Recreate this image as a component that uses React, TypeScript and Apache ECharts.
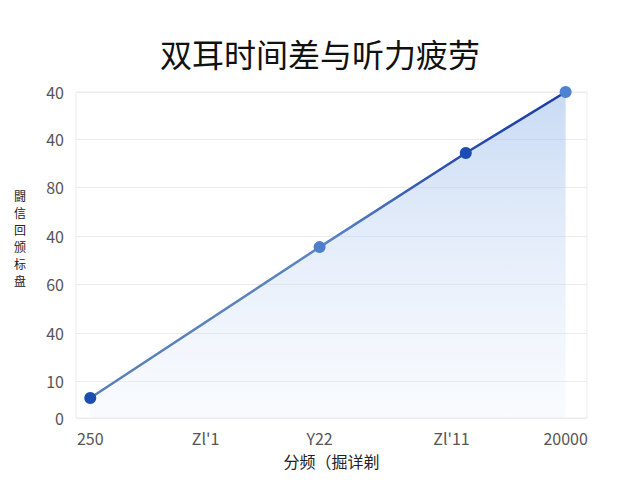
import * as echarts from 'echarts';
import React, { useEffect, useRef } from 'react';

// values
const xTickValues = [0, 0.97, 1.93, 3.04, 4];
const xTickLabels = ['250', "Zl'1", 'Y22', "Zl'11", '20000'];
const yTickValues = [0, 0.79, 1.83, 2.88, 3.91, 4.96, 5.99, 7];
const yTickLabels = ['0', '10', '40', '60', '40', '80', '40', '40'];
const pointX = [0, 1.93, 3.16, 4];
const pointY = [0.43, 3.67, 5.69, 7];
const pointColors = ['#1d4eae', '#4d7fcb', '#1c4db3', '#4f82d2'];

const labelFor = (values: number[], labels: string[], v: number) => {
  let best = 0;
  values.forEach((t, i) => {
    if (Math.abs(t - v) < Math.abs(values[best] - v)) best = i;
  });
  return labels[best];
};

const App: React.FC = () => {
  const chartRef = useRef<HTMLDivElement>(null);

  useEffect(() => {
    const myChart = echarts.init(chartRef.current!, null, { renderer: 'svg' });

    const option = {
      animation: false,
      textStyle: { fontFamily: '"Noto Sans CJK SC", "Noto Sans", sans-serif' },
      title: {
        text: '双耳时间差与听力疲劳',
        left: 'center',
        top: 32,
        textStyle: { fontSize: 32, fontWeight: 'normal', color: '#111' },
      },
      grid: {
        left: 76,
        right: 53,
        top: 92,
        bottom: 62,
        show: true,
        borderColor: '#ebebeb',
        borderWidth: 1,
      },
      xAxis: {
        type: 'value',
        min: -0.12,
        max: 4.18,
        name: '分频（掘详剃',
        nameLocation: 'middle',
        nameGap: 35,
        nameTextStyle: { fontSize: 16, color: '#222' },
        axisLine: { show: false },
        axisTick: { show: false, customValues: xTickValues },
        splitLine: { show: false },
        axisLabel: {
          customValues: xTickValues,
          fontSize: 16,
          color: '#555',
          margin: 12,
          formatter: (v: number) => labelFor(xTickValues, xTickLabels, v),
        },
      },
      yAxis: {
        type: 'value',
        min: 0,
        max: 7,
        // vertical stacked name, two empty lines lift it above the middle
        name: '闘\n信\n回\n颁\n标\n盘\n\n',
        nameLocation: 'middle',
        nameRotate: 0,
        nameGap: 50,
        nameTextStyle: { fontSize: 12, color: '#222', lineHeight: 17 },
        axisLine: { show: false },
        axisTick: { show: false, customValues: yTickValues },
        splitLine: { show: true, lineStyle: { color: '#ececec', width: 1 } },
        axisLabel: {
          customValues: yTickValues,
          fontSize: 16,
          color: '#555',
          margin: 12,
          formatter: (v: number) => labelFor(yTickValues, yTickLabels, v),
        },
      },
      series: [
        {
          type: 'line',
          data: pointX.map((x, i) => ({
            value: [x, pointY[i]],
            itemStyle: { color: pointColors[i] },
          })),
          symbol: 'circle',
          symbolSize: 12,
          lineStyle: {
            width: 2.5,
            color: new echarts.graphic.LinearGradient(0, 0, 1, 0, [
              { offset: 0, color: '#5a7fb4' },
              { offset: 0.5, color: '#5a84c4' },
              { offset: 0.75, color: '#2a4fb0' },
              { offset: 1, color: '#1a3aa8' },
            ]),
          },
          areaStyle: {
            color: new echarts.graphic.LinearGradient(0, 0, 0, 1, [
              { offset: 0, color: 'rgba(150,185,235,0.75)' },
              { offset: 1, color: 'rgba(225,235,250,0.3)' },
            ]),
          },
        },
      ],
    };

    myChart.setOption(option);

    return () => {
      myChart.dispose();
    };
  }, []);

  return (
    <div
      ref={chartRef}
      style={{ position: 'absolute', left: 0, top: 0, width: '640px', height: '480px' }}
    />
  );
};

export default App;
